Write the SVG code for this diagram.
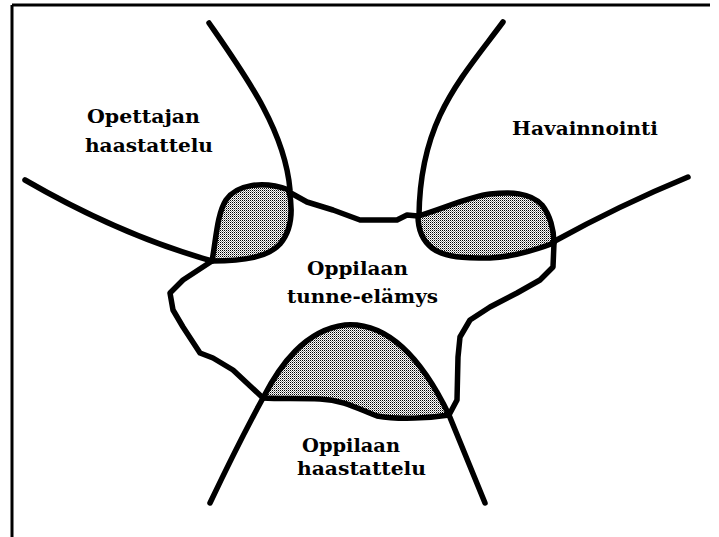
<svg xmlns="http://www.w3.org/2000/svg" width="719" height="537" viewBox="0 0 719 537">
<defs>
<pattern id="stip" width="2" height="2" patternUnits="userSpaceOnUse">
<rect width="2" height="2" fill="#ffffff"/>
<rect x="0" y="0" width="1" height="1" fill="#000000"/>
<rect x="1" y="1" width="1" height="1" fill="#8a8a8a"/>
</pattern>
<style>
.ln{fill:none;stroke:#000;stroke-width:5.5;stroke-linecap:round;stroke-linejoin:round}
.lens{fill:url(#stip);stroke:#000;stroke-width:5.5;stroke-linejoin:round}
.fr{fill:none;stroke:#000;stroke-width:3}
.t{font-family:"DejaVu Serif","Liberation Serif",serif;font-weight:bold;font-size:19px;fill:#000}
</style>
</defs>
<rect width="719" height="537" fill="#fff"/>
<g id="frame">
<path class="fr" d="M12,5 H710 M12,5 V537"/>
</g>
<g id="lenses">
<path id="lens-left" class="lens" d="M212,261 C216,240 217,214 226,200 C236,185 262,180 289,190 C293,210 292,230 280,244 C268,257 245,261 212,261 Z"/>
<path id="lens-right" class="lens" d="M418,216 C440,210 470,196 490,194 C510,192 530,192 542,205 C550,215 554,230 554,243 C530,252 510,257 490,258 C465,258 445,258 432,248 C422,240 418,228 418,216 Z"/>
<path id="lens-bottom" class="lens" d="M263,398 C280,365 305,330 345,325 C385,322 420,355 449,415 C430,418 400,420 377,416 C360,410 345,400 320,399 C300,398 280,399 263,398 Z"/>
</g>
<g id="connectors">
<path id="blob" class="ln" d="M289,192 L307,202 L333,210 L360,220 L397,220 L407,215 L418,216 M554,243 L553,267 L540,280 L517,293 L490,307 L470,320 L460,337 L458,357 L457,400 L449,415 M263,398 L233,370 L213,358 L200,353 L183,327 L173,310 L170,293 L183,280 L212,261"/>
<path id="line-left" class="ln" d="M25,180 Q120,235 212,261"/>
<path id="curve-top-left" class="ln" d="M209,23 C245,75 285,130 290,190"/>
<path id="curve-top-right" class="ln" d="M503,22 C460,80 420,120 419,216"/>
<path id="line-right" class="ln" d="M688,177 Q620,205 553,242"/>
<path id="line-bottom-left" class="ln" d="M263,398 Q240,440 210,503"/>
<path id="line-bottom-right" class="ln" d="M449,415 L485,503"/>
</g>
<g id="node-opettajan">
<text class="t" x="87" y="123" textLength="113" lengthAdjust="spacingAndGlyphs">Opettajan</text>
<text class="t" x="85" y="152" textLength="128" lengthAdjust="spacingAndGlyphs">haastattelu</text>
</g>
<g id="node-havainnointi">
<text class="t" x="512" y="135" textLength="146" lengthAdjust="spacingAndGlyphs">Havainnointi</text>
</g>
<g id="node-tunne">
<text class="t" x="307" y="275" textLength="101" lengthAdjust="spacingAndGlyphs">Oppilaan</text>
<text class="t" x="287" y="303" textLength="151" lengthAdjust="spacingAndGlyphs">tunne-elämys</text>
</g>
<g id="node-oppilaan">
<text class="t" x="302" y="452" textLength="98" lengthAdjust="spacingAndGlyphs">Oppilaan</text>
<text class="t" x="297" y="475" textLength="129" lengthAdjust="spacingAndGlyphs">haastattelu</text>
</g>
</svg>
